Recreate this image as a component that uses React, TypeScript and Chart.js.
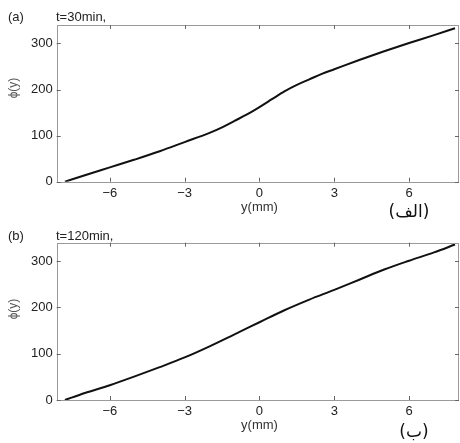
import React, { useEffect, useRef } from "react";
import { Chart, registerables } from "chart.js";
Chart.register(...registerables);

const xTicks = [-6, -3, 0, 3, 6];
const yTicks = [0, 100, 200, 300];
const xA = [-7.8, -7, -6, -5, -4, -3, -2, -1.5, -1, -0.5, 0, 0.5, 1, 1.5, 2, 2.5, 3, 4, 5, 6, 7, 7.84];
const phiA = [0, 14, 31, 48, 66, 86, 106, 118, 132, 146, 162, 179, 196, 210, 222, 234, 244, 264, 283, 301, 318, 333];
const xB = [-7.8, -7, -6, -5, -4, -3, -2, -1, 0, 1, 2, 3, 4, 5, 6, 7, 7.84];
const phiB = [0, 15, 32, 51, 71, 92, 116, 142, 168, 194, 217, 238, 260, 282, 301, 319, 336];

const FONT = "'Liberation Sans', Arial, sans-serif";

type Panel = {
  xs: number[];
  ys: number[];
  tag: string;
  time: string;
  arabic: string;
  canvasH: number;
  top: number;
  bottom: number;
  tagY: number;
  yTitleY: number;
  xTitleY: number;
  arabicX: number;
  arabicY: number;
};

const fmt = (v: number) => (v < 0 ? "\u2212" + Math.abs(v) : String(v));

function makeDecor(p: Panel) {
  return {
    id: "decor",
    afterDraw(chart: any) {
      const ctx = chart.ctx as CanvasRenderingContext2D;
      const { left, right, top, bottom } = chart.chartArea;
      const xs = chart.scales.x;
      const ys = chart.scales.y;
      ctx.save();
      // frame
      ctx.strokeStyle = "#9a9a9a";
      ctx.lineWidth = 1;
      ctx.strokeRect(Math.round(left) + 0.5, Math.round(top) + 0.5, Math.round(right - left) - 1, Math.round(bottom - top));
      // inward ticks
      ctx.strokeStyle = "#666";
      ctx.beginPath();
      const tl = 4;
      xTicks.forEach((v) => {
        const px = Math.round(xs.getPixelForValue(v)) + 0.5;
        ctx.moveTo(px, bottom);
        ctx.lineTo(px, bottom - tl);
        ctx.moveTo(px, top);
        ctx.lineTo(px, top + tl);
      });
      yTicks.forEach((v) => {
        const py = Math.round(ys.getPixelForValue(v)) + 0.5;
        ctx.moveTo(left, py);
        ctx.lineTo(left + tl, py);
        ctx.moveTo(right, py);
        ctx.lineTo(right - tl, py);
      });
      ctx.stroke();
      // texts
      ctx.fillStyle = "#222";
      ctx.font = `13px ${FONT}`;
      ctx.textBaseline = "middle";
      ctx.textAlign = "left";
      ctx.fillText(p.tag, 8, p.tagY);
      ctx.fillText(p.time, 56, p.tagY);
      ctx.textAlign = "center";
      ctx.fillStyle = "#333";
      ctx.fillText("y(mm)", xs.getPixelForValue(0), p.xTitleY);
      ctx.save();
      ctx.translate(14, p.yTitleY);
      ctx.rotate(-Math.PI / 2);
      ctx.font = `12px ${FONT}`;
      ctx.fillStyle = "#555";
      ctx.fillText("\u03d5(y)", 0, 0);
      ctx.restore();
      ctx.font = `17px 'DejaVu Sans', sans-serif`;
      ctx.fillStyle = "#111";
      ctx.fillText(p.arabic, p.arabicX, p.arabicY);
      ctx.restore();
    },
  };
}

function PanelChart({ p, top }: { p: Panel; top: number }) {
  const ref = useRef<HTMLCanvasElement | null>(null);
  useEffect(() => {
    if (!ref.current) return;
    const chart = new Chart(ref.current, {
      type: "line",
      data: {
        datasets: [
          {
            data: p.xs.map((x, i) => ({ x, y: p.ys[i] })),
            borderColor: "#111",
            borderWidth: 2,
            pointRadius: 0,
            tension: 0.4,
            cubicInterpolationMode: "monotone",
            fill: false,
          },
        ],
      },
      options: {
        animation: false,
        responsive: false,
        maintainAspectRatio: false,
        layout: { padding: { left: 0, right: 1, top: p.top, bottom: 0 } },
        plugins: { legend: { display: false }, tooltip: { enabled: false }, title: { display: false } },
        scales: {
          x: {
            type: "linear",
            min: -8.13,
            max: 8.0,
            afterBuildTicks: (s: any) => {
              s.ticks = xTicks.map((v) => ({ value: v }));
            },
            afterFit: (s: any) => {
              s.height = p.canvasH - p.bottom;
            },
            grid: { display: false, drawTicks: false },
            border: { display: false },
            ticks: {
              padding: 4,
              autoSkip: false,
              maxRotation: 0,
              color: "#222",
              font: { family: FONT, size: 13 },
              callback: (v: any) => fmt(Number(v)),
            },
          },
          y: {
            type: "linear",
            min: 0,
            max: 340,
            afterBuildTicks: (s: any) => {
              s.ticks = yTicks.map((v) => ({ value: v }));
            },
            afterFit: (s: any) => {
              s.width = 56.7;
            },
            grid: { display: false, drawTicks: false },
            border: { display: false },
            ticks: {
              padding: 4,
              color: "#222",
              font: { family: FONT, size: 13 },
              callback: (v: any) => fmt(Number(v)),
            },
          },
        },
      } as any,
      plugins: [makeDecor(p)],
    });
    return () => chart.destroy();
  }, [p]);
  return (
    <canvas
      ref={ref}
      width={460}
      height={p.canvasH}
      style={{ position: "absolute", left: 0, top, width: 460, height: p.canvasH }}
    />
  );
}

const panelA: Panel = {
  xs: xA,
  ys: phiA,
  tag: "(a)",
  time: "t=30min,",
  arabic: "(الف)",
  canvasH: 232,
  top: 25,
  bottom: 181.7,
  tagY: 17,
  yTitleY: 88,
  xTitleY: 207,
  arabicX: 409,
  arabicY: 213,
};

const panelB: Panel = {
  xs: xB,
  ys: phiB,
  tag: "(b)",
  time: "t=120min,",
  arabic: "(ب)",
  canvasH: 223,
  top: 22.7,
  bottom: 180,
  tagY: 16,
  yTitleY: 89,
  xTitleY: 205,
  arabicX: 414,
  arabicY: 213,
};

export default function App() {
  return (
    <div style={{ position: "absolute", left: 0, top: 0, width: 460, height: 443, background: "#fff" }}>
      <PanelChart p={panelA} top={0} />
      <PanelChart p={panelB} top={220} />
    </div>
  );
}
